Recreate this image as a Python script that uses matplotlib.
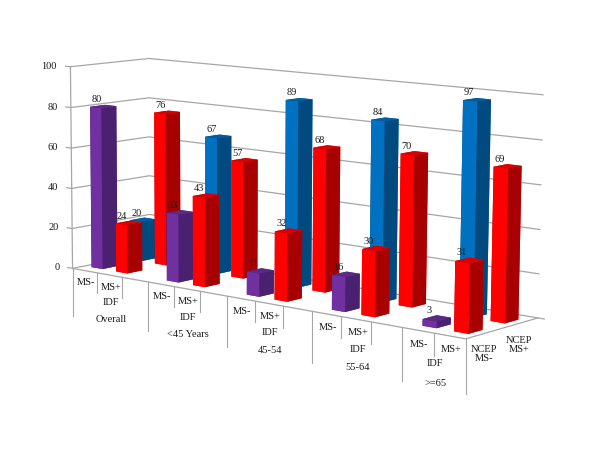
import matplotlib
matplotlib.use('Agg')
import matplotlib.pyplot as plt
from matplotlib.lines import Line2D
from mpl_toolkits.mplot3d import proj3d

groups = ['Overall', '<45 Years', '45-54', '55-64', '>=65']
ms_neg_front = [80, 33, 11, 16, 3]
ms_pos_front = [24, 43, 32, 30, 31]
ms_neg_back = [20, 67, 89, 84, 97]
ms_pos_back = [76, 57, 68, 70, 69]
value_ticks = [0, 20, 40, 60, 80, 100]

# front, top and side colours
PURPLE = ('#7030a0', '#5c2a85', '#4a2070')
RED = ('#ff0000', '#d80000', '#a80000')
BLUE = ('#0070c0', '#005d9f', '#004a80')
GRID = '#a6a6a6'
TEXT = '#1a1a1a'
FONT = 'Liberation Serif'

# every group has MS-, MS+ and a blank slot, the last one has no blank
N_SLOTS = 14
BAR_W = 0.45
BAR_D = 0.38

fig = plt.figure(figsize=(6, 4.5), dpi=100)
# camera fitted against the corners of the box in the reference
ax = fig.add_axes([0.0199, -0.0414, 0.9148, 1.2198], projection='3d', computed_zorder=False)
ax.view_init(elev=8.944, azim=-50.311, roll=-0.301)
ax.set_proj_type('persp', focal_length=0.751)
ax.set_box_aspect((1, 0.233, 0.421))
ax.set_xlim(0, N_SLOTS)
ax.set_ylim(0, 2)
ax.set_zlim(0, 100)
ax.set_axis_off()
ax.patch.set_alpha(0)
M = ax.get_proj()


def to_2d(x, y, z):
    x2, y2, _ = proj3d.proj_transform(x, y, z, M)
    return x2, y2


def label(x, y, z, s, hanging=True, **kw):
    # hanging labels stay straight below their point on the floor
    x2, y2 = to_2d(x, y, z)
    if hanging:
        x2 = to_2d(x, y, 0)[0]
    style = dict(ha='center', va='center', fontsize=7.5, family=FONT, color=TEXT, zorder=100)
    style.update(kw)
    ax.text2D(x2, y2, s, transform=ax.transData, **style)


def draw_bar(slot, row, value, colours, order):
    x0 = slot + (1 - BAR_W) / 2
    y0 = row + (1 - BAR_D) / 2
    front, top, side = colours
    # faces: -z, +z, -y, +y, -x, +x
    ax.bar3d(x0, y0, 0, BAR_W, BAR_D, value, color=[top, top, front, front, side, side],
             shade=False, zorder=order)
    label(x0 + 0.02, y0 + 0.15, value + 3, str(value), hanging=False)


# walls and floor
for v in value_ticks:
    ax.plot([-0.2, 0, 0, N_SLOTS], [0, 0, 2, 2], [v, v, v, v], color=GRID, lw=0.9, zorder=1)
    label(-0.55, 0, v - 0.7, str(v), hanging=False, ha='right')
ax.plot([0, 0], [0, 0], [0, 100], color=GRID, lw=0.9, zorder=1)
ax.plot([0, N_SLOTS, N_SLOTS, N_SLOTS + 0.2], [0, 0, 2, 2], [0, 0, 0, 0], color=GRID, lw=0.9, zorder=1)

order = 2
for row, neg, pos, neg_col in ((1, ms_neg_back, ms_pos_back, BLUE), (0, ms_neg_front, ms_pos_front, PURPLE)):
    for g in range(len(groups)):
        draw_bar(g * 3, row, neg[g], neg_col, order)
        draw_bar(g * 3 + 1, row, pos[g], RED, order + 1)
        order += 2

ax.set_xlim(0, N_SLOTS)
ax.set_ylim(0, 2)
ax.set_zlim(0, 100)

# multi level category axis below the front edge
for x in range(N_SLOTS + 1):
    long_tick = x % 3 == 0 or x == N_SLOTS
    x2, y2 = to_2d(x, 0, 0)
    y_end = to_2d(x, 0, -24 if long_tick else -10)[1]
    ax.add_artist(Line2D([x2, x2], [y2, y_end], color=GRID, lw=0.8, zorder=1, transform=ax.transData))

for g, name in enumerate(groups):
    mid = g * 3 + (1.5 if g < 4 else 1.0)
    label(g * 3 + 0.55, 0, -6, 'MS-')
    label(g * 3 + 1.55, 0, -6, 'MS+')
    label(mid + 0.05, 0, -13.5, 'IDF')
    label(mid + 0.05, 0, -22, name)
label(N_SLOTS, 0.5, -9, 'NCEP\nMS-', linespacing=1.0)
label(N_SLOTS, 1.45, -9.5, 'NCEP\nMS+', linespacing=1.0)

fig.savefig('out.png', dpi=100)
